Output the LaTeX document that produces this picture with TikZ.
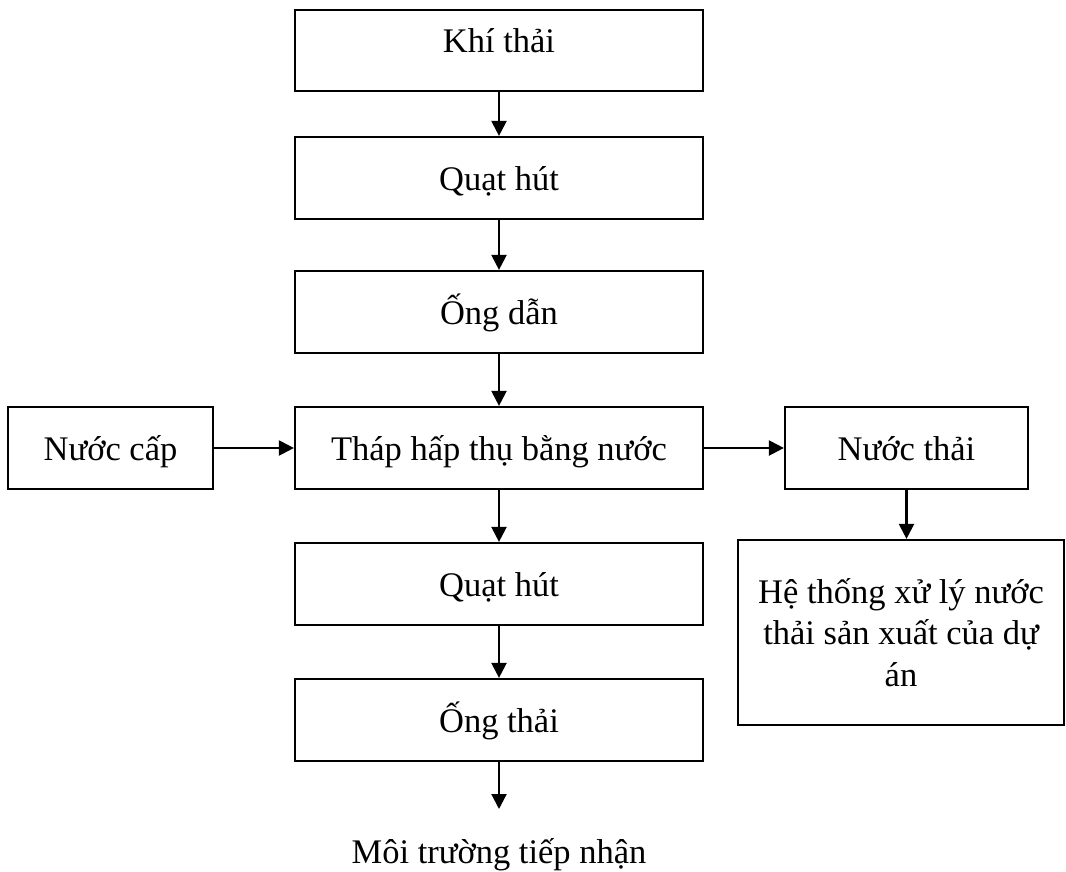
\documentclass[tikz,border=0pt]{standalone}
\usepackage{fontspec}
\setmainfont{Liberation Serif}
\usetikzlibrary{arrows.meta}
\begin{document}
\begin{tikzpicture}[x=1pt,y=-1pt,
  txt/.style={inner sep=0pt,font=\fontsize{34.5}{41.5}\selectfont},
  frame/.style={txt,draw,line width=2.2pt},
  box/.style={frame,text height=30pt,text depth=6pt},
  conn/.style={line width=2.2pt,-{Triangle[width=15pt,length=15pt]}}]
\useasboundingbox (0,0) rectangle (1066,871);
\node[frame,text height=20pt,text depth=17pt,minimum width=408pt,minimum height=81pt] (kt) at (499,50.5) {Khí thải};
\node[box,minimum width=408pt,minimum height=82pt] (qh1) at (499,178) {Quạt hút};
\node[box,minimum width=408pt,minimum height=82pt] (od) at (499,312) {Ống dẫn};
\node[box,minimum width=408pt,minimum height=82pt] (thap) at (499,448) {Tháp hấp thụ bằng nước};
\node[box,minimum width=205pt,minimum height=82pt] (nc) at (110.5,448) {Nước cấp};
\node[box,minimum width=243pt,minimum height=82pt] (nt) at (906.5,448) {Nước thải};
\node[frame,align=center,minimum width=326pt,minimum height=185pt] (ht) at (901,632.5) {Hệ thống xử lý nước\\thải sản xuất của dự\\án};
\node[box,minimum width=408pt,minimum height=82pt] (qh2) at (499,584) {Quạt hút};
\node[box,minimum width=408pt,minimum height=82pt] (ot) at (499,720) {Ống thải};
\node[txt,anchor=base] (mt) at (499,863) {Môi trường tiếp nhận};
\coordinate (end) at (499,809);
\draw[conn] (kt) -- (qh1);
\draw[conn] (qh1) -- (od);
\draw[conn] (od) -- (thap);
\draw[conn] (nc) -- (thap);
\draw[conn] (thap) -- (nt);
\draw[conn] (nt.south) -- (nt.south |- ht.north);
\draw[conn] (thap) -- (qh2);
\draw[conn] (qh2) -- (ot);
\draw[conn] (ot) -- (end);
\end{tikzpicture}
\end{document}
